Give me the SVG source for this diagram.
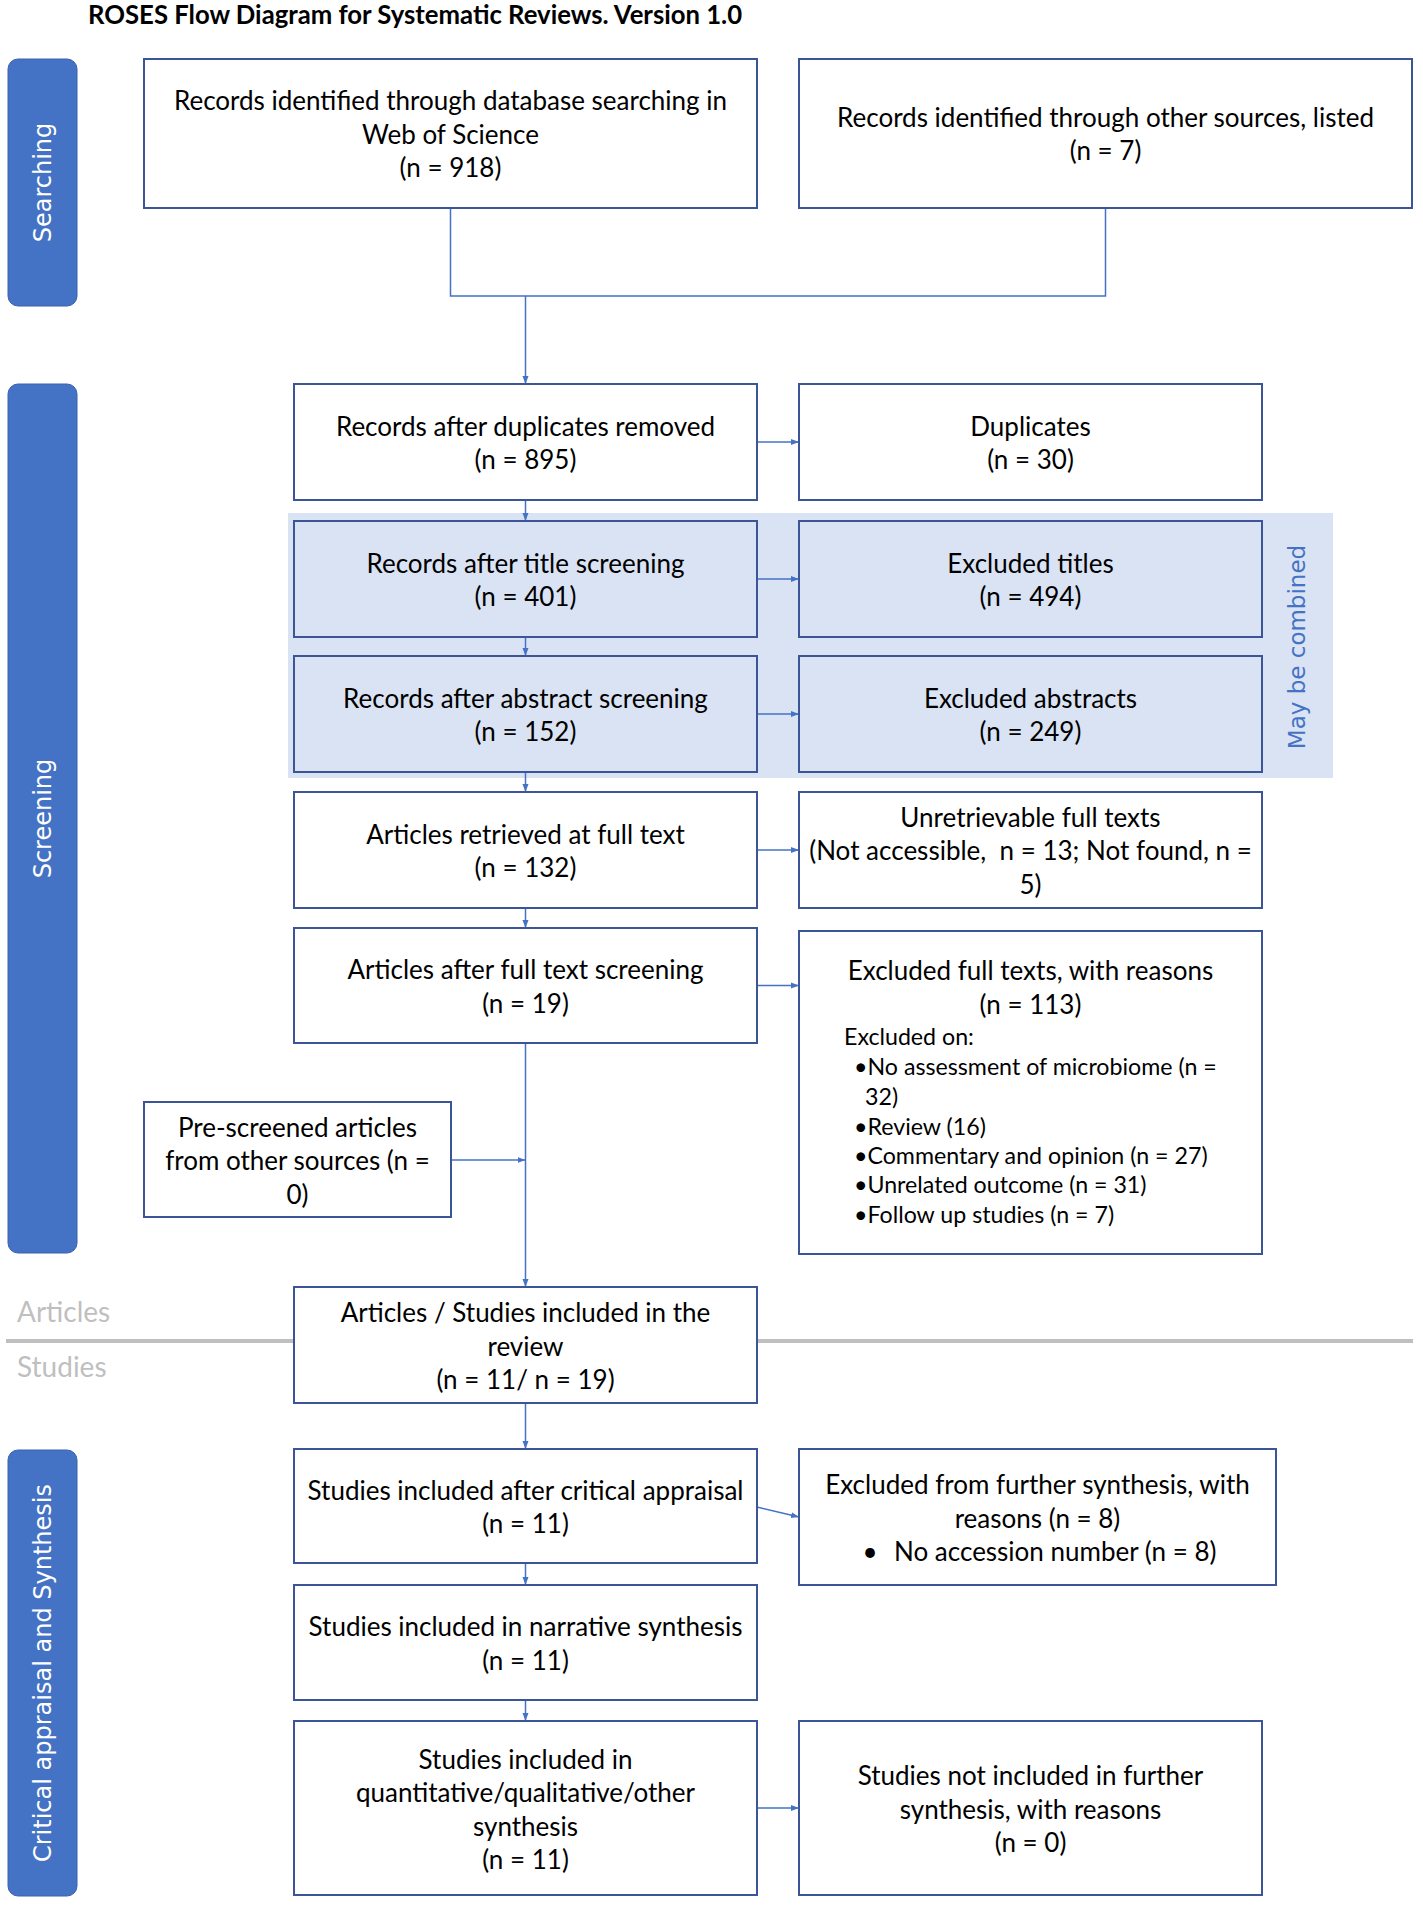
<svg xmlns="http://www.w3.org/2000/svg" width="1423" height="1915" viewBox="0 0 1423 1915">
<defs>
<marker id="ah" markerUnits="userSpaceOnUse" markerWidth="8" markerHeight="8" refX="8" refY="4" orient="auto">
<path d="M0,1 L8,4 L0,7 z" fill="#4472C4"/>
</marker>
<style>
.box{fill:#FFFFFF;stroke:#3B5598;stroke-width:2}
.shb{fill:#DAE3F3;stroke:#3B5598;stroke-width:2}
.side{fill:#4472C4;stroke:#3A62B0;stroke-width:1}
.t{font-family:Lato,"Liberation Sans",sans-serif;font-size:26px;fill:#000000;text-anchor:middle}
.ts{font-family:Lato,"Liberation Sans",sans-serif;font-size:23.2px;fill:#000000}
.sidet{font-family:"DejaVu Sans",Verdana,sans-serif;font-size:24px;fill:#FFFFFF;text-anchor:middle}
.grey{font-family:Lato,"Liberation Sans",sans-serif;font-size:28px;fill:#BFBFBF}
.con{fill:none;stroke:#4472C4;stroke-width:1.5}
</style>
</defs>
<rect width="1423" height="1915" fill="#FFFFFF"/>
<text x="88" y="24" style="font-family:Lato,'Liberation Sans',sans-serif;font-size:25.7px;font-weight:bold;fill:#000">ROSES Flow Diagram for Systematic Reviews. Version 1.0</text>

<g id="sidebar-searching">
<rect class="side" x="8" y="59" width="69" height="247" rx="10"/>
<text class="sidet" transform="translate(51,182.5) rotate(-90)">Searching</text>
</g>
<g id="sidebar-screening">
<rect class="side" x="8" y="384" width="69" height="869" rx="10"/>
<text class="sidet" transform="translate(51,818.5) rotate(-90)">Screening</text>
</g>
<g id="sidebar-critical">
<rect class="side" x="8" y="1450" width="69" height="446" rx="10"/>
<text class="sidet" transform="translate(51,1673) rotate(-90)">Critical appraisal and Synthesis</text>
</g>

<g id="combined-region">
<rect x="288" y="513" width="1045" height="265" fill="#DAE3F3"/>
<text transform="translate(1305,647) rotate(-90)" style="font-family:'DejaVu Sans',Verdana,sans-serif;font-size:23px;fill:#4472C4;text-anchor:middle">May be combined</text>
</g>

<g id="divider">
<line x1="6" y1="1341" x2="1413" y2="1341" stroke="#BFBFBF" stroke-width="4"/>
<text class="grey" x="17" y="1322">Articles</text>
<text class="grey" x="17" y="1377">Studies</text>
</g>

<g id="connectors">
<path class="con" d="M450.5,208 V296 H1105.5 V208"/>
<path class="con" d="M525.5,296 V384" marker-end="url(#ah)"/>
<path class="con" d="M757,442 H799" marker-end="url(#ah)"/>
<path class="con" d="M757,579 H799" marker-end="url(#ah)"/>
<path class="con" d="M757,714 H799" marker-end="url(#ah)"/>
<path class="con" d="M757,850 H799" marker-end="url(#ah)"/>
<path class="con" d="M757,985.5 H799" marker-end="url(#ah)"/>
<path class="con" d="M757,1507 L799,1517" marker-end="url(#ah)"/>
<path class="con" d="M757,1808 H799" marker-end="url(#ah)"/>
<path class="con" d="M525.5,500 V521" marker-end="url(#ah)"/>
<path class="con" d="M525.5,637 V656" marker-end="url(#ah)"/>
<path class="con" d="M525.5,772 V792" marker-end="url(#ah)"/>
<path class="con" d="M525.5,908 V928" marker-end="url(#ah)"/>
<path class="con" d="M525.5,1043 V1287" marker-end="url(#ah)"/>
<path class="con" d="M525.5,1403 V1449" marker-end="url(#ah)"/>
<path class="con" d="M525.5,1563 V1585" marker-end="url(#ah)"/>
<path class="con" d="M525.5,1700 V1721" marker-end="url(#ah)"/>
<path class="con" d="M451,1160 H525.5" marker-end="url(#ah)"/>
</g>

<g id="node-db-search">
<rect class="box" x="144" y="59" width="613" height="149"/>
<text class="t" x="450.5" y="110">Records identified through database searching in</text>
<text class="t" x="450.5" y="143.5">Web of Science</text>
<text class="t" x="450.5" y="177">(n = 918)</text>
</g>
<g id="node-other-sources">
<rect class="box" x="799" y="59" width="613" height="149"/>
<text class="t" x="1105.5" y="126.5">Records identified through other sources, listed</text>
<text class="t" x="1105.5" y="160">(n = 7)</text>
</g>

<g id="node-dup-removed">
<rect class="box" x="294" y="384" width="463" height="116"/>
<text class="t" x="525.5" y="435.5">Records after duplicates removed</text>
<text class="t" x="525.5" y="469">(n = 895)</text>
</g>
<g id="node-duplicates">
<rect class="box" x="799" y="384" width="463" height="116"/>
<text class="t" x="1030.5" y="435.5">Duplicates</text>
<text class="t" x="1030.5" y="469">(n = 30)</text>
</g>

<g id="node-title-screening">
<rect class="shb" x="294" y="521" width="463" height="116"/>
<text class="t" x="525.5" y="572.5">Records after title screening</text>
<text class="t" x="525.5" y="606">(n = 401)</text>
</g>
<g id="node-excluded-titles">
<rect class="shb" x="799" y="521" width="463" height="116"/>
<text class="t" x="1030.5" y="572.5">Excluded titles</text>
<text class="t" x="1030.5" y="606">(n = 494)</text>
</g>

<g id="node-abstract-screening">
<rect class="shb" x="294" y="656" width="463" height="116"/>
<text class="t" x="525.5" y="707.5">Records after abstract screening</text>
<text class="t" x="525.5" y="741">(n = 152)</text>
</g>
<g id="node-excluded-abstracts">
<rect class="shb" x="799" y="656" width="463" height="116"/>
<text class="t" x="1030.5" y="707.5">Excluded abstracts</text>
<text class="t" x="1030.5" y="741">(n = 249)</text>
</g>

<g id="node-full-text-retrieved">
<rect class="box" x="294" y="792" width="463" height="116"/>
<text class="t" x="525.5" y="843.5">Articles retrieved at full text</text>
<text class="t" x="525.5" y="877">(n = 132)</text>
</g>
<g id="node-unretrievable">
<rect class="box" x="799" y="792" width="463" height="116"/>
<text class="t" x="1030.5" y="826.5">Unretrievable full texts</text>
<text class="t" x="1030.5" y="860" xml:space="preserve">(Not accessible,  n = 13; Not found, n =</text>
<text class="t" x="1030.5" y="893.5">5)</text>
</g>

<g id="node-full-text-screening">
<rect class="box" x="294" y="928" width="463" height="115"/>
<text class="t" x="525.5" y="979">Articles after full text screening</text>
<text class="t" x="525.5" y="1012.5">(n = 19)</text>
</g>
<g id="node-excluded-full-texts">
<rect class="box" x="799" y="931" width="463" height="323"/>
<text class="t" x="1030.5" y="980">Excluded full texts, with reasons</text>
<text class="t" x="1030.5" y="1014">(n = 113)</text>
<text class="ts" x="844" y="1045">Excluded on:</text>
<text class="ts" x="854" y="1075">•No assessment of microbiome (n =</text>
<text class="ts" x="865" y="1105">32)</text>
<text class="ts" x="854" y="1135">•Review (16)</text>
<text class="ts" x="854" y="1164">•Commentary and opinion (n = 27)</text>
<text class="ts" x="854" y="1193">•Unrelated outcome (n = 31)</text>
<text class="ts" x="854" y="1223">•Follow up studies (n = 7)</text>
</g>

<g id="node-prescreened">
<rect class="box" x="144" y="1102" width="307" height="115"/>
<text class="t" x="297.5" y="1136.5">Pre-screened articles</text>
<text class="t" x="297.5" y="1170">from other sources (n =</text>
<text class="t" x="297.5" y="1203.5">0)</text>
</g>

<g id="node-included-review">
<rect class="box" x="294" y="1287" width="463" height="116"/>
<text class="t" x="525.5" y="1322">Articles / Studies included in the</text>
<text class="t" x="525.5" y="1355.5">review</text>
<text class="t" x="525.5" y="1389">(n = 11/ n = 19)</text>
</g>

<g id="node-critical-appraisal">
<rect class="box" x="294" y="1449" width="463" height="114"/>
<text class="t" x="525.5" y="1499.5">Studies included after critical appraisal</text>
<text class="t" x="525.5" y="1533">(n = 11)</text>
</g>
<g id="node-excluded-synthesis">
<rect class="box" x="799" y="1449" width="477" height="136"/>
<text class="t" x="1037.5" y="1494">Excluded from further synthesis, with</text>
<text class="t" x="1037.5" y="1527.5">reasons (n = 8)</text>
<text class="t" x="870" y="1561">•</text>
<text class="t" x="894" y="1561" style="text-anchor:start">No accession number (n = 8)</text>
</g>

<g id="node-narrative">
<rect class="box" x="294" y="1585" width="463" height="115"/>
<text class="t" x="525.5" y="1636">Studies included in narrative synthesis</text>
<text class="t" x="525.5" y="1669.5">(n = 11)</text>
</g>

<g id="node-quant-synthesis">
<rect class="box" x="294" y="1721" width="463" height="174"/>
<text class="t" x="525.5" y="1768.5">Studies included in</text>
<text class="t" x="525.5" y="1802">quantitative/qualitative/other</text>
<text class="t" x="525.5" y="1835.5">synthesis</text>
<text class="t" x="525.5" y="1869">(n = 11)</text>
</g>
<g id="node-not-included">
<rect class="box" x="799" y="1721" width="463" height="174"/>
<text class="t" x="1030.5" y="1785">Studies not included in further</text>
<text class="t" x="1030.5" y="1818.5">synthesis, with reasons</text>
<text class="t" x="1030.5" y="1852">(n = 0)</text>
</g>
</svg>
